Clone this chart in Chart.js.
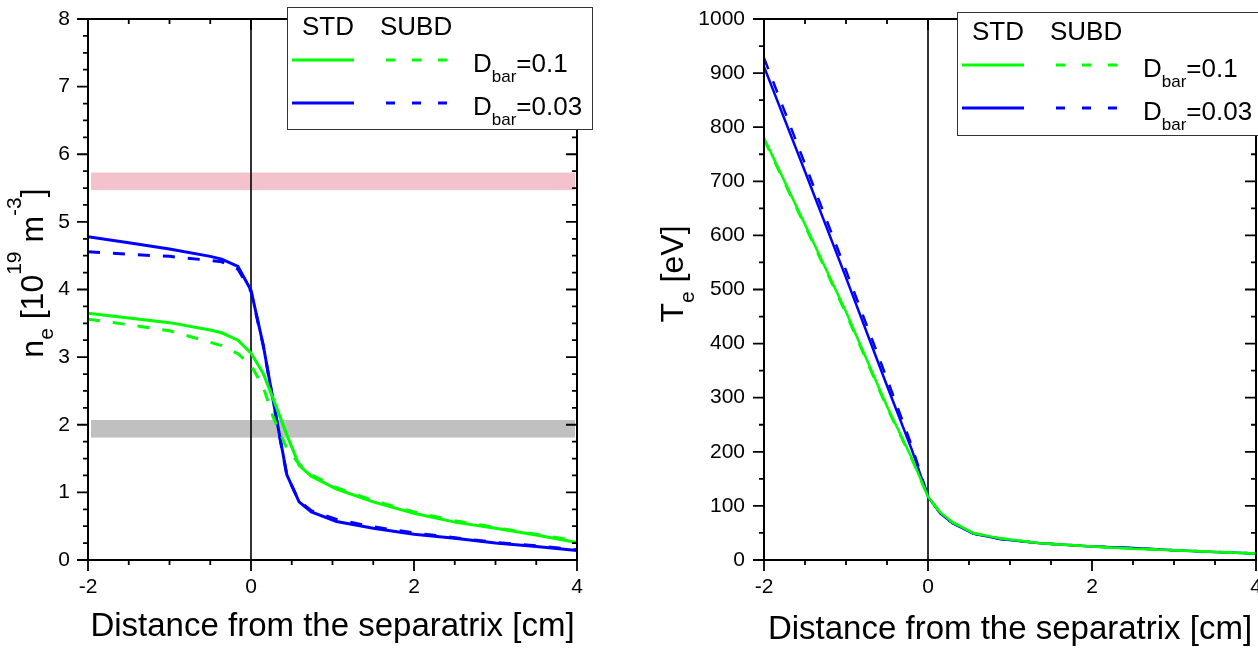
<!DOCTYPE html>
<html>
<head>
  <title>ne and Te profiles</title>
  <script src="https://cdn.jsdelivr.net/npm/chart.js"></script>
  <style>
    body { margin: 0; background: #fff; }
    .wrap { position: relative; width: 1258px; height: 651px; overflow: hidden; }
    canvas { position: absolute; top: 0; }
    #neChart { left: 0; }
    #teChart { left: 629px; }
  </style>
</head>
<body>
<div class="wrap">
  <canvas id="neChart" width="629" height="651"></canvas>
  <canvas id="teChart" width="629" height="651"></canvas>
</div>
<script>
  // distance from the separatrix [cm]
  const xNe = [-2, -1.5, -1, -0.5, -0.36, -0.16, 0, 0.15, 0.27, 0.44, 0.59, 0.74, 1.05, 1.5, 2, 2.5, 3, 3.5, 4];
  // n_e [1e19 m^-3]
  const neStd01   = [3.65, 3.58, 3.51, 3.40, 3.36, 3.25, 3.06, 2.76, 2.39, 1.85, 1.40, 1.24, 1.05, 0.86, 0.69, 0.56, 0.47, 0.37, 0.26];
  const neSubd01  = [3.56, 3.48, 3.39, 3.22, 3.17, 3.05, 2.88, 2.56, 2.12, 1.65, 1.42, 1.26, 1.07, 0.88, 0.71, 0.58, 0.48, 0.38, 0.28];
  const neStd003  = [4.78, 4.69, 4.60, 4.49, 4.45, 4.34, 3.99, 3.18, 2.37, 1.26, 0.86, 0.71, 0.57, 0.47, 0.38, 0.32, 0.25, 0.20, 0.14];
  const neSubd003 = [4.56, 4.52, 4.49, 4.43, 4.41, 4.30, 3.97, 3.17, 2.36, 1.25, 0.87, 0.73, 0.60, 0.49, 0.40, 0.33, 0.26, 0.21, 0.15];

  const xTe = [-2, -1.5, -1, -0.5, -0.2, 0, 0.15, 0.3, 0.55, 0.88, 1.37, 2, 2.5, 3, 3.5, 4];
  // T_e [eV]
  const teStd01   = [780, 620, 459, 284, 189, 117, 88, 70, 50, 40, 31, 25, 21, 18, 15, 12];
  const teSubd01  = [777, 617, 455, 281, 187, 116, 87, 69, 50, 40, 31, 25, 21, 18, 15, 12];
  const teStd003  = [912, 718, 522, 322, 205, 117, 86, 68, 49, 39, 31, 25, 22, 18, 15, 12];
  const teSubd003 = [928, 732, 535, 335, 212, 118, 86, 68, 49, 39, 31, 25, 22, 18, 15, 12];

  // axis ticks
  const xMajor = [-2, 0, 2, 4];
  const xTickLabels = ['-2', '0', '2', '4'];
  const neMajor = [0, 1, 2, 3, 4, 5, 6, 7, 8];
  const neTickLabels = ['0', '1', '2', '3', '4', '5', '6', '7', '8'];
  const teMajor = [0, 100, 200, 300, 400, 500, 600, 700, 800, 900, 1000];
  const teTickLabels = ['0', '100', '200', '300', '400', '500', '600', '700', '800', '900', '1000'];

  // reference density bands
  const pinkBand = [5.47, 5.73];
  const grayBand = [1.81, 2.07];

  const legendRows = ['=0.1', '=0.03'];
  const GREEN = '#00ff00';
  const BLUE = '#0000ff';
  const FONT = "'Liberation Sans', Arial, sans-serif";

  Chart.defaults.font.family = FONT;
  Chart.defaults.color = '#000';

  function findLabel(v, majors, labels) {
    const i = majors.findIndex(m => Math.abs(m - v) < 1e-6);
    return i < 0 ? '' : labels[i];
  }

  function drawRich(ctx, parts, x, y) {
    parts.forEach(p => {
      ctx.font = p.size + 'px ' + FONT;
      ctx.fillText(p.t, x, y + (p.dy || 0));
      x += ctx.measureText(p.t).width;
    });
    return x;
  }

  function richWidth(ctx, parts) {
    let w = 0;
    parts.forEach(p => { ctx.font = p.size + 'px ' + FONT; w += ctx.measureText(p.t).width; });
    return w;
  }

  // bands, separatrix, frame, ticks, y title, legend
  const framePlugin = {
    id: 'frame',
    beforeDatasetsDraw(chart, args, opts) {
      const {ctx, chartArea: a, scales: {x, y}} = chart;
      ctx.save();
      (opts.bands || []).forEach(b => {
        const yTop = y.getPixelForValue(b.range[1]);
        const yBot = y.getPixelForValue(b.range[0]);
        ctx.fillStyle = b.color;
        ctx.fillRect(a.left + 3, yTop, a.width - 5, yBot - yTop);
      });
      const sx = x.getPixelForValue(0);
      ctx.strokeStyle = '#000';
      ctx.lineWidth = 1.6;
      ctx.beginPath();
      ctx.moveTo(sx, a.top);
      ctx.lineTo(sx, a.bottom);
      ctx.stroke();
      ctx.restore();
    },
    afterDraw(chart, args, opts) {
      const {ctx, chartArea: a, scales: {x, y}} = chart;
      ctx.save();
      ctx.strokeStyle = '#000';
      ctx.lineWidth = 2;
      ctx.strokeRect(a.left, a.top, a.width, a.height);

      // tick marks: outward on left/bottom, inward on top/right
      ctx.lineWidth = 1.8;
      ctx.beginPath();
      x.ticks.forEach(t => {
        const px = x.getPixelForValue(t.value);
        const len = findLabel(t.value, opts.xMajor, opts.xMajor.map(String)) ? 11 : 5;
        ctx.moveTo(px, a.bottom); ctx.lineTo(px, a.bottom + len);
        ctx.moveTo(px, a.top); ctx.lineTo(px, a.top + len);
      });
      y.ticks.forEach(t => {
        const py = y.getPixelForValue(t.value);
        const len = findLabel(t.value, opts.yMajor, opts.yMajor.map(String)) ? 11 : 5;
        ctx.moveTo(a.left, py); ctx.lineTo(a.left - len, py);
        ctx.moveTo(a.right, py); ctx.lineTo(a.right - len, py);
      });
      ctx.stroke();

      // rotated y title with sub/superscripts
      ctx.fillStyle = '#000';
      ctx.textBaseline = 'alphabetic';
      ctx.textAlign = 'left';
      const w = richWidth(ctx, opts.yTitle.parts);
      ctx.save();
      ctx.translate(opts.yTitle.x, opts.yTitle.center);
      ctx.rotate(-Math.PI / 2);
      drawRich(ctx, opts.yTitle.parts, -w / 2, 0);
      ctx.restore();

      // legend box
      const L = opts.legend;
      ctx.fillStyle = '#fff';
      ctx.fillRect(L.left, L.top, L.width, L.height);
      ctx.strokeStyle = '#333';
      ctx.lineWidth = 1;
      ctx.strokeRect(L.left + 0.5, L.top + 0.5, L.width, L.height);
      ctx.fillStyle = '#000';
      ctx.font = '26px ' + FONT;
      ctx.fillText('STD', L.left + 15, L.top + 28);
      ctx.fillText('SUBD', L.left + 93, L.top + 28);
      [GREEN, BLUE].forEach((c, i) => {
        const ly = L.top + 53 + i * 43;
        ctx.strokeStyle = c;
        ctx.lineWidth = 3;
        ctx.setLineDash([]);
        ctx.beginPath(); ctx.moveTo(L.left + 5, ly); ctx.lineTo(L.left + 67, ly); ctx.stroke();
        ctx.setLineDash([9, 17]);
        ctx.beginPath(); ctx.moveTo(L.left + 99, ly); ctx.lineTo(L.left + 161, ly); ctx.stroke();
        ctx.setLineDash([]);
        ctx.fillStyle = '#000';
        drawRich(ctx, [
          {t: 'D', size: 26},
          {t: 'bar', size: 17, dy: 10},
          {t: legendRows[i], size: 26}
        ], L.left + 186, ly + 12);
      });
      ctx.restore();
    }
  };

  function line(xs, ys, color, dashed, width) {
    return {
      data: xs.map((v, i) => ({x: v, y: ys[i]})),
      borderColor: color,
      borderWidth: width,
      borderDash: dashed ? [12, 13] : [],
      pointRadius: 0,
      tension: 0,
      fill: false
    };
  }

  function makeChart(id, cfg) {
    return new Chart(document.getElementById(id), {
      type: 'line',
      data: { datasets: cfg.datasets },
      plugins: [framePlugin],
      options: {
        responsive: false,
        animation: false,
        events: [],
        layout: { padding: { top: 19, right: cfg.padRight, left: 0, bottom: 0 } },
        plugins: {
          legend: { display: false },
          tooltip: { enabled: false },
          frame: {
            bands: cfg.bands,
            xMajor: xMajor,
            yMajor: cfg.yMajor,
            yTitle: cfg.yTitle,
            legend: cfg.legend
          }
        },
        scales: {
          x: {
            type: 'linear', min: -2, max: 4,
            grid: { display: false, drawTicks: false },
            border: { display: false },
            ticks: {
              stepSize: 0.5, autoSkip: false, maxRotation: 0, padding: 15,
              font: { size: 21 },
              callback: v => findLabel(v, xMajor, xTickLabels)
            },
            title: {
              display: true, text: 'Distance from the separatrix [cm]',
              font: { size: 33 }, padding: { top: 0, bottom: cfg.titlePad }
            },
            afterFit: s => { s.height = 91; s.paddingLeft = 0; s.paddingRight = 0; }
          },
          y: {
            type: 'linear', min: cfg.yMin, max: cfg.yMax,
            grid: { display: false, drawTicks: false },
            border: { display: false },
            ticks: {
              stepSize: cfg.yStep, autoSkip: false, padding: cfg.yPad,
              font: { size: 21 },
              callback: v => findLabel(v, cfg.yMajor, cfg.yLabels)
            },
            afterFit: s => { s.width = cfg.yWidth; s.paddingTop = 0; s.paddingBottom = 0; }
          }
        }
      }
    });
  }

  makeChart('neChart', {
    datasets: [
      line(xNe, neStd01, GREEN, false, 3),
      line(xNe, neSubd01, GREEN, true, 3),
      line(xNe, neStd003, BLUE, false, 3),
      line(xNe, neSubd003, BLUE, true, 3)
    ],
    bands: [{range: pinkBand, color: '#f4c2cc'}, {range: grayBand, color: '#c0c0c0'}],
    yMin: 0, yMax: 8, yStep: 0.25, yMajor: neMajor, yLabels: neTickLabels,
    yWidth: 88, yPad: 18, padRight: 52, titlePad: 4,
    yTitle: {
      x: 43, center: 273,
      parts: [
        {t: 'n', size: 32}, {t: 'e', size: 21, dy: 10}, {t: ' [10', size: 32},
        {t: '19', size: 21, dy: -22}, {t: ' m', size: 32}, {t: '-3', size: 21, dy: -22}, {t: ']', size: 32}
      ]
    },
    legend: { left: 287, top: 7, width: 305, height: 122 }
  });

  makeChart('teChart', {
    datasets: [
      line(xTe, teStd01, GREEN, false, 2.5),
      line(xTe, teSubd01, GREEN, true, 2.5),
      line(xTe, teStd003, BLUE, false, 2.5),
      line(xTe, teSubd003, BLUE, true, 2.5)
    ],
    bands: [],
    yMin: 0, yMax: 1000, yStep: 50, yMajor: teMajor, yLabels: teTickLabels,
    yWidth: 135, yPad: 19, padRight: 2, titlePad: 1,
    yTitle: {
      x: 54, center: 274,
      parts: [{t: 'T', size: 32}, {t: 'e', size: 21, dy: 11}, {t: ' [eV]', size: 32}]
    },
    legend: { left: 328, top: 12, width: 330, height: 123 }
  });
</script>
</body>
</html>
